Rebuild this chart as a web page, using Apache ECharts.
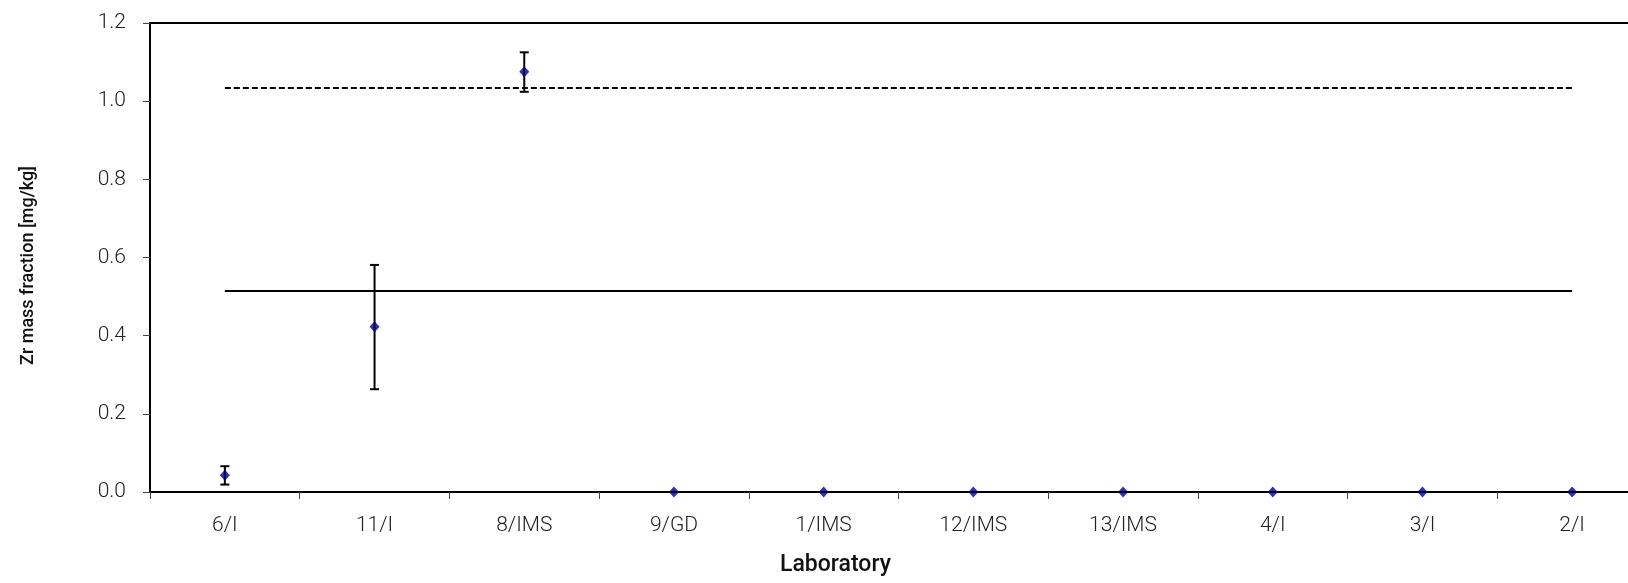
<!DOCTYPE html>
<html>
<head>
<meta charset="utf-8">
<script src="https://cdn.jsdelivr.net/npm/echarts@6/dist/echarts.min.js"></script>
<style>
  html, body { margin: 0; padding: 0; background: #fff; overflow: hidden; }
  #chart { width: 1628px; height: 583px; }
</style>
</head>
<body>
<div id="chart"></div>
<script>
// ---- data ----
const laboratories = ['6/I', '11/I', '8/IMS', '9/GD', '1/IMS', '12/IMS', '13/IMS', '4/I', '3/I', '2/I'];
const zrValues   = [0.043, 0.423, 1.075, 0, 0, 0, 0, 0, 0, 0];
const errorLow   = [0.019, 0.263, 1.024, null, null, null, null, null, null, null];
const errorHigh  = [0.066, 0.581, 1.125, null, null, null, null, null, null, null];
const referenceValue = 0.514;   // solid line
const upperLimit     = 1.035;   // dashed line
const yTicks = { min: 0, max: 1.2, interval: 0.2 };

const FONT = 'Roboto, "Noto Sans", sans-serif';

const chart = echarts.init(document.getElementById('chart'), null, { renderer: 'canvas' });

const errorData = laboratories.map((c, i) => [i, errorLow[i], errorHigh[i]]).filter(d => d[1] != null);

const option = {
  animation: false,
  backgroundColor: '#ffffff',
  grid: {
    left: 150, top: 23, width: 1497, height: 469,
    outerBoundsMode: 'none',
    containLabel: false,
    show: true, borderColor: '#000', borderWidth: 2, backgroundColor: 'transparent'
  },
  xAxis: {
    type: 'category',
    data: laboratories,
    boundaryGap: true,
    name: 'Laboratory',
    nameLocation: 'middle',
    nameGap: 62,
    nameTextStyle: { fontFamily: FONT, fontSize: 23, fontWeight: 500, color: '#111', padding: [0, 126, 0, 0] },
    axisLine: { show: true, lineStyle: { color: '#000', width: 2 } },
    axisTick: { show: true, length: 7, lineStyle: { color: '#444', width: 1 } },
    axisLabel: { fontFamily: FONT, fontSize: 21, fontWeight: 300, color: '#222', margin: 23 },
    splitLine: { show: false }
  },
  yAxis: {
    type: 'value',
    min: yTicks.min, max: yTicks.max, interval: yTicks.interval,
    name: 'Zr mass fraction [mg/kg]',
    nameLocation: 'middle',
    nameGap: 113,
    nameTextStyle: { fontFamily: FONT, fontSize: 18, fontWeight: 500, color: '#111', padding: [0, 16, 0, 0] },
    axisLine: { show: true, lineStyle: { color: '#000', width: 2 } },
    axisTick: { show: true, length: 7, lineStyle: { color: '#444', width: 1 } },
    axisLabel: {
      fontFamily: FONT, fontSize: 21, fontWeight: 300, color: '#222', margin: 24,
      formatter: v => v.toFixed(1)
    },
    splitLine: { show: false }
  },
  series: [
    {
      type: 'custom',
      name: 'uncertainty',
      z: 3,
      renderItem: function (params, api) {
        const x = api.value(0);
        const lo = api.coord([x, api.value(1)]);
        const hi = api.coord([x, api.value(2)]);
        const half = 4.5;
        const style = { stroke: '#000', lineWidth: 2 };
        return {
          type: 'group',
          children: [
            { type: 'line', shape: { x1: lo[0], y1: lo[1], x2: hi[0], y2: hi[1] }, style: style },
            { type: 'line', shape: { x1: lo[0] - half, y1: lo[1], x2: lo[0] + half, y2: lo[1] }, style: style },
            { type: 'line', shape: { x1: hi[0] - half, y1: hi[1], x2: hi[0] + half, y2: hi[1] }, style: style }
          ]
        };
      },
      encode: { x: 0, y: [1, 2] },
      data: errorData
    },
    {
      type: 'scatter',
      name: 'Zr',
      z: 5,
      symbol: 'diamond',
      symbolSize: [10, 11],
      itemStyle: { color: '#000080' },
      data: zrValues,
      markLine: {
        silent: true,
        symbol: ['none', 'none'],
        label: { show: false },
        data: [
          [
            { coord: [laboratories[0], referenceValue], lineStyle: { type: 'solid', color: '#000', width: 2 } },
            { coord: [laboratories[laboratories.length - 1], referenceValue] }
          ],
          [
            { coord: [laboratories[0], upperLimit], lineStyle: { type: [6, 3], color: '#000', width: 2 } },
            { coord: [laboratories[laboratories.length - 1], upperLimit] }
          ]
        ]
      }
    }
  ]
};

chart.setOption(option);
</script>
</body>
</html>
